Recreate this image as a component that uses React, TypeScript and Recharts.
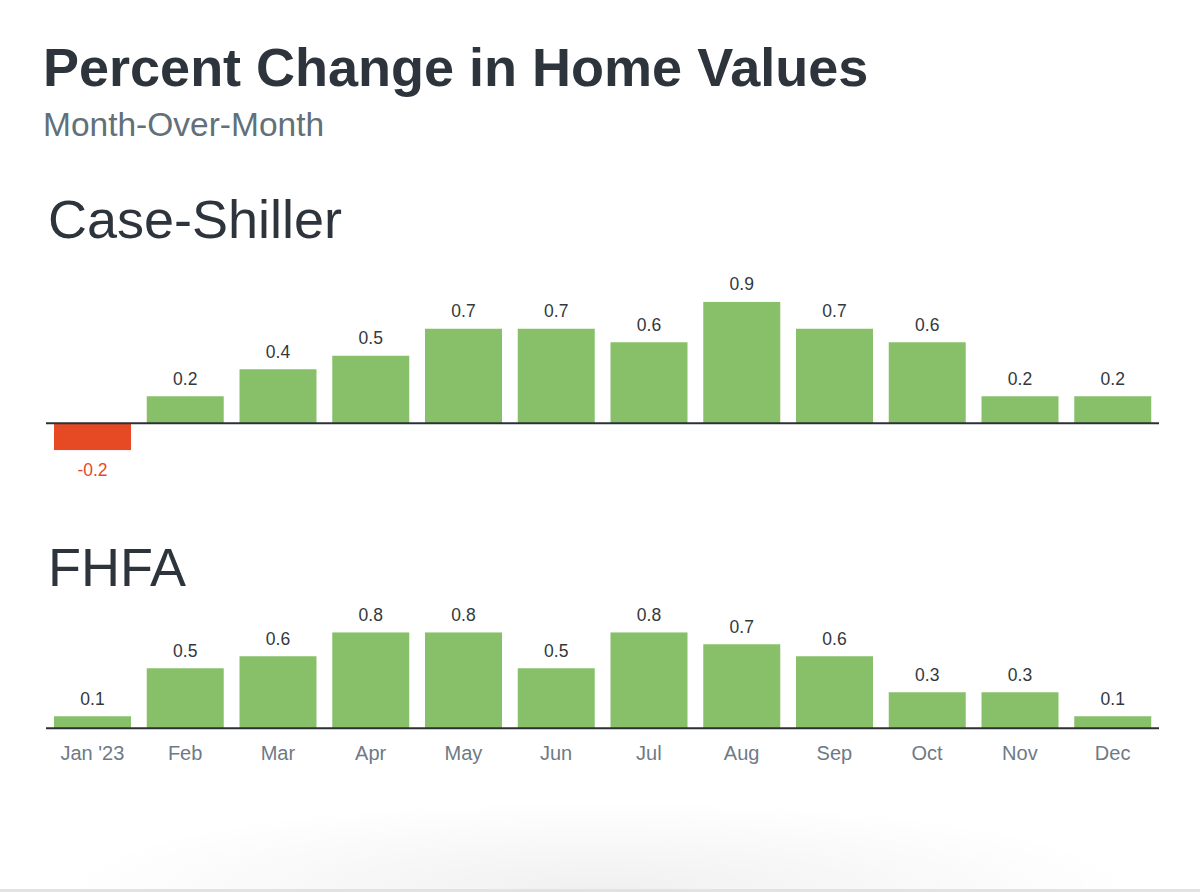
import { Bar, BarChart, Cell, LabelList, ReferenceLine, XAxis, YAxis } from "recharts";

const months = ["Jan '23", "Feb", "Mar", "Apr", "May", "Jun", "Jul", "Aug", "Sep", "Oct", "Nov", "Dec"];
const caseShiller = [-0.2, 0.2, 0.4, 0.5, 0.7, 0.7, 0.6, 0.9, 0.7, 0.6, 0.2, 0.2];
const fhfa = [0.1, 0.5, 0.6, 0.8, 0.8, 0.5, 0.8, 0.7, 0.6, 0.3, 0.3, 0.1];

const FONT = "'Liberation Sans', Arial, Helvetica, sans-serif";
const GREEN = "#88c06a";
const RED = "#e64a25";
const DARK = "#2d343c";

const caseData = months.map((month, i) => ({ month, value: caseShiller[i] }));
const fhfaData = months.map((month, i) => ({ month, value: fhfa[i] }));

// value label above positive bars, below negative ones
function ValueLabel(props: any) {
  const { x, y, width, height, value } = props;
  const top = Math.min(y, y + height);
  const bottom = Math.max(y, y + height);
  const neg = value < 0;
  return (
    <text
      x={x + width / 2}
      y={neg ? bottom + 26 : top - 11.5}
      textAnchor="middle"
      fontSize={17.5}
      fontFamily={FONT}
      fill={neg ? RED : "#33383d"}
    >
      {value}
    </text>
  );
}

function Heading({ text, top, size, color, weight, left }: any) {
  return (
    <div
      style={{
        position: "absolute",
        left,
        top,
        fontSize: size,
        lineHeight: 1,
        fontWeight: weight,
        color,
        fontFamily: FONT,
        whiteSpace: "nowrap",
      }}
    >
      {text}
    </div>
  );
}

export default function App() {
  return (
    <div
      style={{
        position: "absolute",
        left: 0,
        top: 0,
        width: 1200,
        height: 892,
        overflow: "hidden",
        background: "#fff",
        fontFamily: FONT,
      }}
    >
      <Heading text="Percent Change in Home Values" top={40} size={54} color={DARK} weight={700} left={43} />
      <Heading text="Month-Over-Month" top={108} size={33.5} color="#627079" weight={400} left={43} />
      <Heading text="Case-Shiller" top={192} size={54} color={DARK} weight={400} left={48} />
      <Heading text="FHFA" top={540} size={54} color={DARK} weight={400} left={48} />

      <div style={{ position: "absolute", left: 0, top: 250 }}>
        <BarChart
          width={1200}
          height={250}
          data={caseData}
          margin={{ top: 51.8, right: 41, left: 46, bottom: 49.7 }}
        >
          <XAxis dataKey="month" hide />
          <YAxis hide domain={[-0.2, 0.9]} allowDataOverflow />
          <Bar dataKey="value" barSize={77} isAnimationActive={false}>
            {caseData.map((d) => (
              <Cell key={d.month} fill={d.value < 0 ? RED : GREEN} />
            ))}
            <LabelList dataKey="value" content={ValueLabel} />
          </Bar>
          <ReferenceLine y={0} stroke="#2b3035" strokeWidth={2} />
        </BarChart>
      </div>

      <div style={{ position: "absolute", left: 0, top: 600 }}>
        <BarChart
          width={1200}
          height={180}
          data={fhfaData}
          margin={{ top: 32.3, right: 41, left: 46, bottom: 21.7 }}
        >
          <XAxis
            dataKey="month"
            height={30}
            axisLine={{ stroke: "#2b3035", strokeWidth: 2 }}
            tickLine={false}
            tickMargin={11}
            tick={{ fontSize: 20, fill: "#6e7a86", fontFamily: FONT }}
            interval={0}
          />
          <YAxis hide domain={[0, 0.8]} allowDataOverflow />
          <Bar dataKey="value" barSize={77} fill={GREEN} isAnimationActive={false}>
            <LabelList dataKey="value" content={ValueLabel} />
          </Bar>
        </BarChart>
      </div>

      <div
        style={{
          position: "absolute",
          left: 60,
          width: 1080,
          top: 800,
          height: 90,
          background: "radial-gradient(ellipse 50% 100% at 50% 100%, rgba(0,0,0,0.06), rgba(0,0,0,0) 100%)",
        }}
      />
      <div style={{ position: "absolute", left: 0, width: 1200, top: 889, height: 3, background: "#e2e2e2" }} />
    </div>
  );
}
